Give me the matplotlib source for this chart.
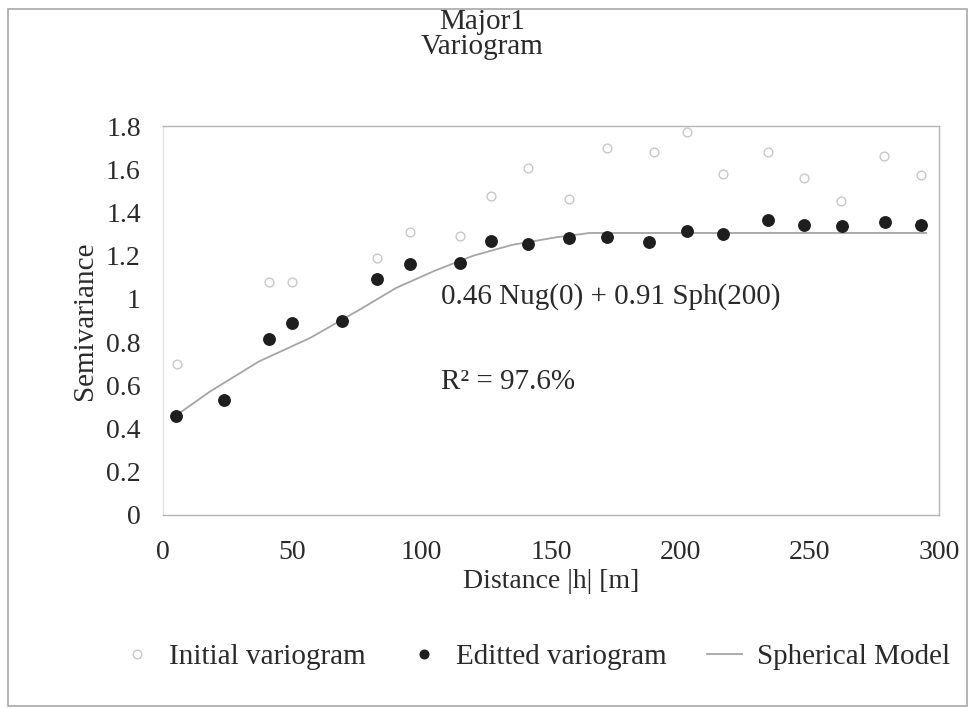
import matplotlib
matplotlib.use('Agg')
import matplotlib.pyplot as plt
from matplotlib.patches import Rectangle
from matplotlib.lines import Line2D

plt.rcParams['font.family'] = ['Liberation Serif', 'DejaVu Serif']

# values
init_dist = [5.3, 41.1, 50.0, 82.8, 95.5, 114.9, 126.7, 141.0, 157.0, 171.6,
             189.7, 202.6, 216.5, 234.0, 248.0, 262.0, 278.6, 293.2]
init_gamma = [0.70, 1.08, 1.08, 1.19, 1.31, 1.29, 1.475, 1.605, 1.46, 1.70,
              1.68, 1.77, 1.58, 1.68, 1.56, 1.455, 1.66, 1.575]

edit_dist = [5.0, 23.4, 41.1, 50.0, 69.3, 82.8, 95.5, 114.9, 126.7, 141.0,
             157.0, 171.6, 187.7, 202.6, 216.5, 233.7, 247.9, 262.4, 279.0, 293.2]
edit_gamma = [0.46, 0.53, 0.815, 0.89, 0.898, 1.093, 1.163, 1.168, 1.268, 1.253,
              1.281, 1.288, 1.265, 1.313, 1.30, 1.366, 1.341, 1.338, 1.355, 1.343]

model_dist = [5, 18, 37, 57, 76, 90, 105, 120, 135, 152, 165, 295]
model_gamma = [0.46, 0.57, 0.71, 0.82, 0.95, 1.05, 1.13, 1.20, 1.25, 1.285, 1.305, 1.305]

xticks = [0, 50, 100, 150, 200, 250, 300]
yticks = [0, 0.2, 0.4, 0.6, 0.8, 1, 1.2, 1.4, 1.6, 1.8]
ytick_labels = ['0', '0.2', '0.4', '0.6', '0.8', '1', '1.2', '1.4', '1.6', '1.8']

txt = '#2a2a2a'

fig = plt.figure(figsize=(9.74, 7.08), dpi=100)
fig.patch.set_facecolor('white')

# outer chart border
fig.patches.append(Rectangle((8 / 974, 2 / 708), 959 / 974, 697 / 708,
                             transform=fig.transFigure, fill=False,
                             edgecolor='#a8a8a8', linewidth=1.2))

ax = fig.add_axes([163 / 974, 193 / 708, 776 / 974, 389 / 708])

ax.plot(model_dist, model_gamma, color='#a5a5a5', linewidth=1.3, zorder=1)
ax.scatter(init_dist, init_gamma, s=40, facecolor='white', edgecolor='#c8c8c8',
           linewidth=1.0, zorder=2)
ax.scatter(edit_dist, edit_gamma, s=68, color='#1e1e1e', zorder=3)

ax.set_xlim(0, 300)
ax.set_ylim(0, 1.8)
ax.set_xticks(xticks)
ax.set_yticks(yticks)
ax.set_yticklabels(ytick_labels)
ax.tick_params(length=0, labelsize=20, colors=txt)
ax.tick_params(axis='y', pad=16)
ax.tick_params(axis='x', pad=18)
for s in ax.spines.values():
    s.set_color('#b4b4b4')
    s.set_linewidth(1.0)
ax.spines['left'].set_color('#e2e2e2')

ax.set_xlabel('Distance |h| [m]', fontsize=20, color=txt, labelpad=3)
ax.set_ylabel('Semivariance', fontsize=21, color=txt, labelpad=6)

ax.text(107.5, 1.01, '0.46 Nug(0) + 0.91 Sph(200)', fontsize=21, color=txt,
        ha='left', va='center')
ax.text(107.5, 0.615, 'R\u00b2 = 97.6%', fontsize=21, color=txt,
        ha='left', va='center')

fig.text(0.495, 1 - 22 / 708, 'Major1', fontsize=21, color=txt, ha='center', va='center')
fig.text(0.495, 1 - 47 / 708, 'Variogram', fontsize=21, color=txt, ha='center', va='center')

handles = [
    Line2D([], [], linestyle='none', marker='o', markersize=6.2,
           markerfacecolor='white', markeredgecolor='#c8c8c8'),
    Line2D([], [], linestyle='none', marker='o', markersize=6.2,
           color='#1e1e1e'),
    Line2D([], [], color='#a5a5a5', linewidth=1.3),
]
fig.legend(handles, ['Initial variogram', 'Editted variogram', 'Spherical Model'],
           loc='center', bbox_to_anchor=(0.549, 51 / 708), ncol=3, frameon=False,
           fontsize=21, labelcolor=txt, handlelength=1.2, handletextpad=0.5,
           columnspacing=1.4)

fig.savefig('out.png', dpi=100)
